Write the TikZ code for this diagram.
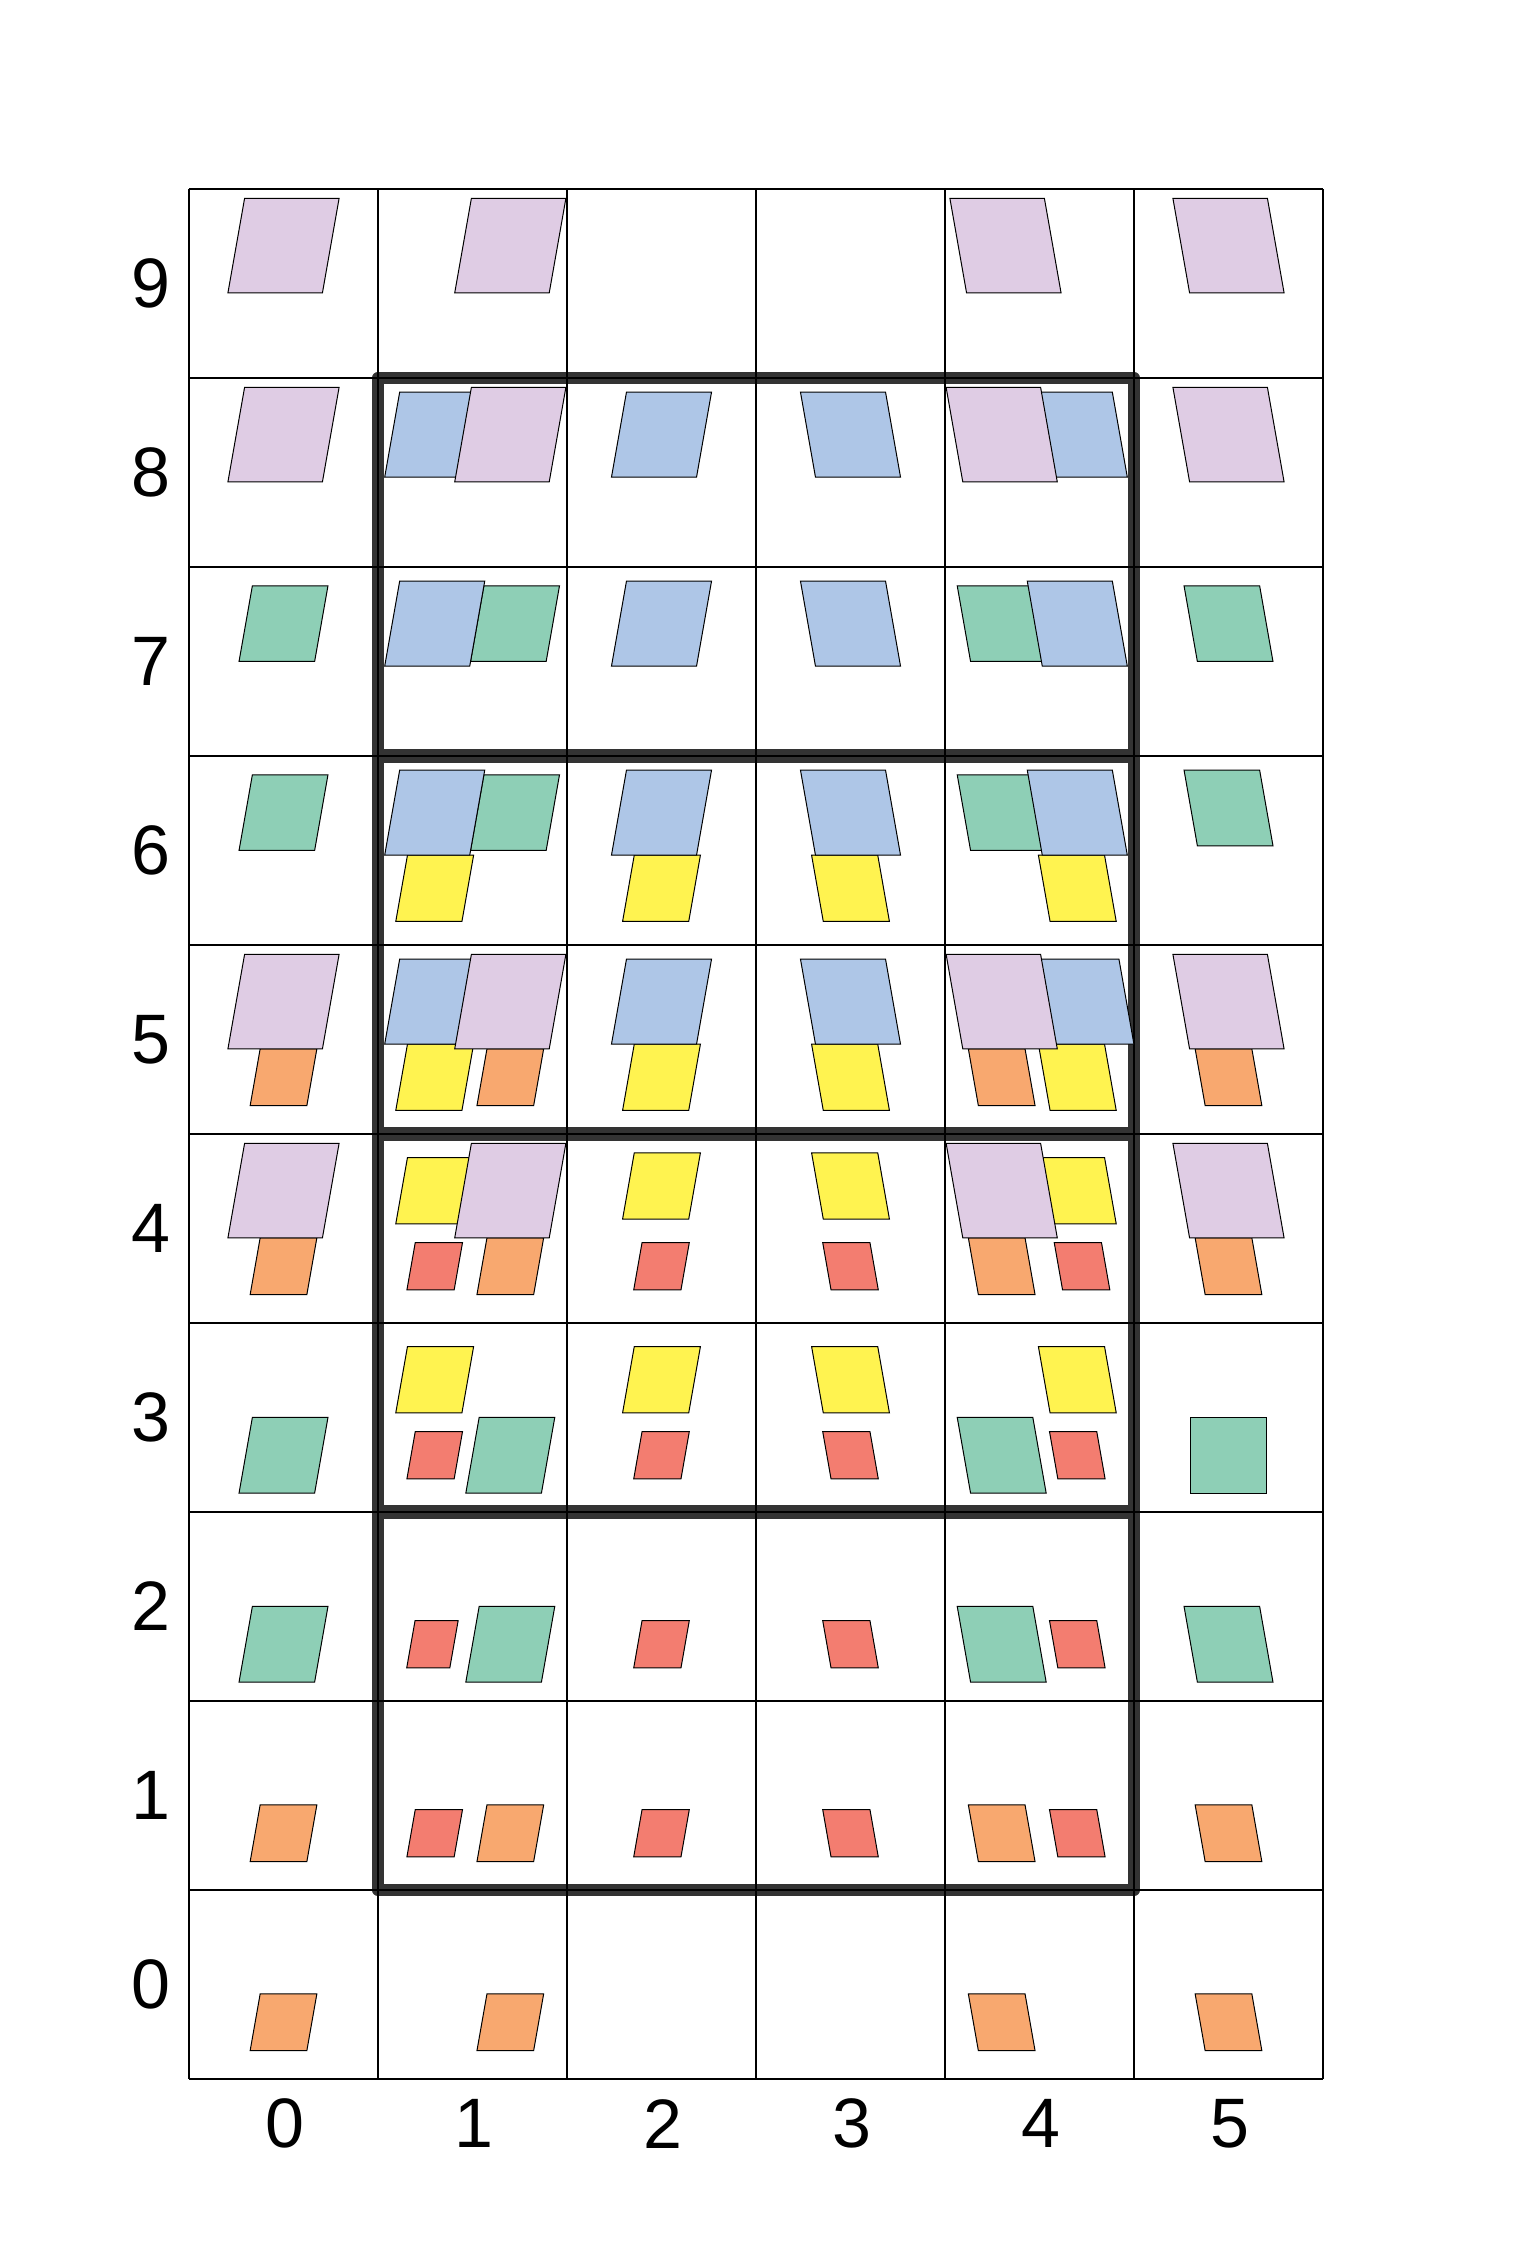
\documentclass[tikz,border=0pt]{standalone}
\usepackage{fontspec}
\setmainfont{Liberation Sans}
\definecolor{lilac}{HTML}{DFCCE4}
\definecolor{bluec}{HTML}{AEC6E7}
\definecolor{greenc}{HTML}{8ECFB6}
\definecolor{yellowc}{HTML}{FFF350}
\definecolor{orangec}{HTML}{F8A86F}
\definecolor{redc}{HTML}{F37D70}
\definecolor{boxc}{HTML}{333333}
\def\slR{0.1763}
\def\slL{-0.1763}
\newcommand\ob[5]{\filldraw[objline,#1,shift={(#3,#4)},xslant=#5] (-#2/2,-#2/2) -- (#2/2,-#2/2) -- (#2/2,#2/2) -- (-#2/2,#2/2) -- cycle;}
\begin{document}
\begin{tikzpicture}[x=47.25pt,y=47.25pt,
  objline/.style={draw=black,line width=0.25pt,line join=miter},
  gridline/.style={draw=black,line width=0.28pt},
  thickbox/.style={draw=boxc,line width=3.1pt,line join=round},
  lab/.style={font=\fontsize{17.5}{20}\selectfont,inner sep=0pt},
  Lo/.style={fill=lilac}, Bo/.style={fill=bluec}, Go/.style={fill=greenc},
  Yo/.style={fill=yellowc}, Oo/.style={fill=orangec}, Ro/.style={fill=redc}]
\useasboundingbox (-1,-1) rectangle (7,11);
% thick boxes
\draw[thickbox] (1,7.005) rectangle (5,9);
\draw[thickbox] (1,5.005) rectangle (5,6.995);
\draw[thickbox] (1,3.005) rectangle (5,4.995);
\draw[thickbox] (1,1) rectangle (5,2.995);
% grid
\foreach \gx in {0,...,6} {\draw[gridline] (\gx,0) -- (\gx,10);}
\foreach \gy in {0,...,10} {\draw[gridline] (0,\gy) -- (6,\gy);}
% labels
\foreach \r in {0,...,9} {\node[lab] (row\r) at (-0.2,\r+0.5) {\r};}
\foreach \c in {0,...,5} {\node[lab] (col\c) at (\c+0.51,-0.237) {\c};}
% red
\ob{Ro}{0.25}{1.3}{4.3}{\slR}
\ob{Ro}{0.25}{2.5}{4.3}{\slR}
\ob{Ro}{0.25}{3.5}{4.3}{\slL}
\ob{Ro}{0.25}{4.725}{4.3}{\slL}
\ob{Ro}{0.25}{1.3}{3.3}{\slR}
\ob{Ro}{0.25}{2.5}{3.3}{\slR}
\ob{Ro}{0.25}{3.5}{3.3}{\slL}
\ob{Ro}{0.25}{4.7}{3.3}{\slL}
\filldraw[objline,Ro,shift={(1.288,2.3)},xslant=\slR] (-0.114,-0.125) -- (0.114,-0.125) -- (0.114,0.125) -- (-0.114,0.125) -- cycle;
\ob{Ro}{0.25}{2.5}{2.3}{\slR}
\ob{Ro}{0.25}{3.5}{2.3}{\slL}
\ob{Ro}{0.25}{4.7}{2.3}{\slL}
\ob{Ro}{0.25}{1.3}{1.3}{\slR}
\ob{Ro}{0.25}{2.5}{1.3}{\slR}
\ob{Ro}{0.25}{3.5}{1.3}{\slL}
\ob{Ro}{0.25}{4.7}{1.3}{\slL}
% orange
\ob{Oo}{0.3}{0.5}{5.3}{\slR}
\ob{Oo}{0.3}{1.7}{5.3}{\slR}
\ob{Oo}{0.3}{4.3}{5.3}{\slL}
\ob{Oo}{0.3}{5.5}{5.3}{\slL}
\ob{Oo}{0.3}{0.5}{4.3}{\slR}
\ob{Oo}{0.3}{1.7}{4.3}{\slR}
\ob{Oo}{0.3}{4.3}{4.3}{\slL}
\ob{Oo}{0.3}{5.5}{4.3}{\slL}
\ob{Oo}{0.3}{0.5}{1.3}{\slR}
\ob{Oo}{0.3}{1.7}{1.3}{\slR}
\ob{Oo}{0.3}{4.3}{1.3}{\slL}
\ob{Oo}{0.3}{5.5}{1.3}{\slL}
\ob{Oo}{0.3}{0.5}{0.3}{\slR}
\ob{Oo}{0.3}{1.7}{0.3}{\slR}
\ob{Oo}{0.3}{4.3}{0.3}{\slL}
\ob{Oo}{0.3}{5.5}{0.3}{\slL}
% yellow
\ob{Yo}{0.35}{1.3}{6.3}{\slR}
\ob{Yo}{0.35}{2.5}{6.3}{\slR}
\ob{Yo}{0.35}{3.5}{6.3}{\slL}
\ob{Yo}{0.35}{4.7}{6.3}{\slL}
\ob{Yo}{0.35}{1.3}{5.3}{\slR}
\ob{Yo}{0.35}{2.5}{5.3}{\slR}
\ob{Yo}{0.35}{3.5}{5.3}{\slL}
\ob{Yo}{0.35}{4.7}{5.3}{\slL}
\ob{Yo}{0.35}{1.3}{4.7}{\slR}
\ob{Yo}{0.35}{2.5}{4.725}{\slR}
\ob{Yo}{0.35}{3.5}{4.725}{\slL}
\ob{Yo}{0.35}{4.7}{4.7}{\slL}
\ob{Yo}{0.35}{1.3}{3.7}{\slR}
\ob{Yo}{0.35}{2.5}{3.7}{\slR}
\ob{Yo}{0.35}{3.5}{3.7}{\slL}
\ob{Yo}{0.35}{4.7}{3.7}{\slL}
% green
\ob{Go}{0.4}{0.5}{7.7}{\slR}
\ob{Go}{0.4}{1.725}{7.7}{\slR}
\ob{Go}{0.4}{4.3}{7.7}{\slL}
\ob{Go}{0.4}{5.5}{7.7}{\slL}
\ob{Go}{0.4}{0.5}{6.7}{\slR}
\ob{Go}{0.4}{1.725}{6.7}{\slR}
\ob{Go}{0.4}{4.3}{6.7}{\slL}
\ob{Go}{0.4}{5.5}{6.725}{\slL}
\ob{Go}{0.4}{0.5}{3.3}{\slR}
\ob{Go}{0.4}{1.7}{3.3}{\slR}
\ob{Go}{0.4}{4.3}{3.3}{\slL}
\ob{Go}{0.4}{5.5}{3.3}{0}
\ob{Go}{0.4}{0.5}{2.3}{\slR}
\ob{Go}{0.4}{1.7}{2.3}{\slR}
\ob{Go}{0.4}{4.3}{2.3}{\slL}
\ob{Go}{0.4}{5.5}{2.3}{\slL}
% blue
\ob{Bo}{0.45}{1.3}{8.7}{\slR}
\ob{Bo}{0.45}{2.5}{8.7}{\slR}
\ob{Bo}{0.45}{3.5}{8.7}{\slL}
\ob{Bo}{0.45}{4.7}{8.7}{\slL}
\ob{Bo}{0.45}{1.3}{7.7}{\slR}
\ob{Bo}{0.45}{2.5}{7.7}{\slR}
\ob{Bo}{0.45}{3.5}{7.7}{\slL}
\ob{Bo}{0.45}{4.7}{7.7}{\slL}
\ob{Bo}{0.45}{1.3}{6.7}{\slR}
\ob{Bo}{0.45}{2.5}{6.7}{\slR}
\ob{Bo}{0.45}{3.5}{6.7}{\slL}
\ob{Bo}{0.45}{4.7}{6.7}{\slL}
\ob{Bo}{0.45}{1.3}{5.7}{\slR}
\ob{Bo}{0.45}{2.5}{5.7}{\slR}
\ob{Bo}{0.45}{3.5}{5.7}{\slL}
\ob{Bo}{0.45}{4.735}{5.7}{\slL}
% lilac
\ob{Lo}{0.5}{0.5}{9.7}{\slR}
\ob{Lo}{0.5}{1.7}{9.7}{\slR}
\ob{Lo}{0.5}{4.32}{9.7}{\slL}
\ob{Lo}{0.5}{5.5}{9.7}{\slL}
\ob{Lo}{0.5}{0.5}{8.7}{\slR}
\ob{Lo}{0.5}{1.7}{8.7}{\slR}
\ob{Lo}{0.5}{4.3}{8.7}{\slL}
\ob{Lo}{0.5}{5.5}{8.7}{\slL}
\ob{Lo}{0.5}{0.5}{5.7}{\slR}
\ob{Lo}{0.5}{1.7}{5.7}{\slR}
\ob{Lo}{0.5}{4.3}{5.7}{\slL}
\ob{Lo}{0.5}{5.5}{5.7}{\slL}
\ob{Lo}{0.5}{0.5}{4.7}{\slR}
\ob{Lo}{0.5}{1.7}{4.7}{\slR}
\ob{Lo}{0.5}{4.3}{4.7}{\slL}
\ob{Lo}{0.5}{5.5}{4.7}{\slL}
\end{tikzpicture}
\end{document}
